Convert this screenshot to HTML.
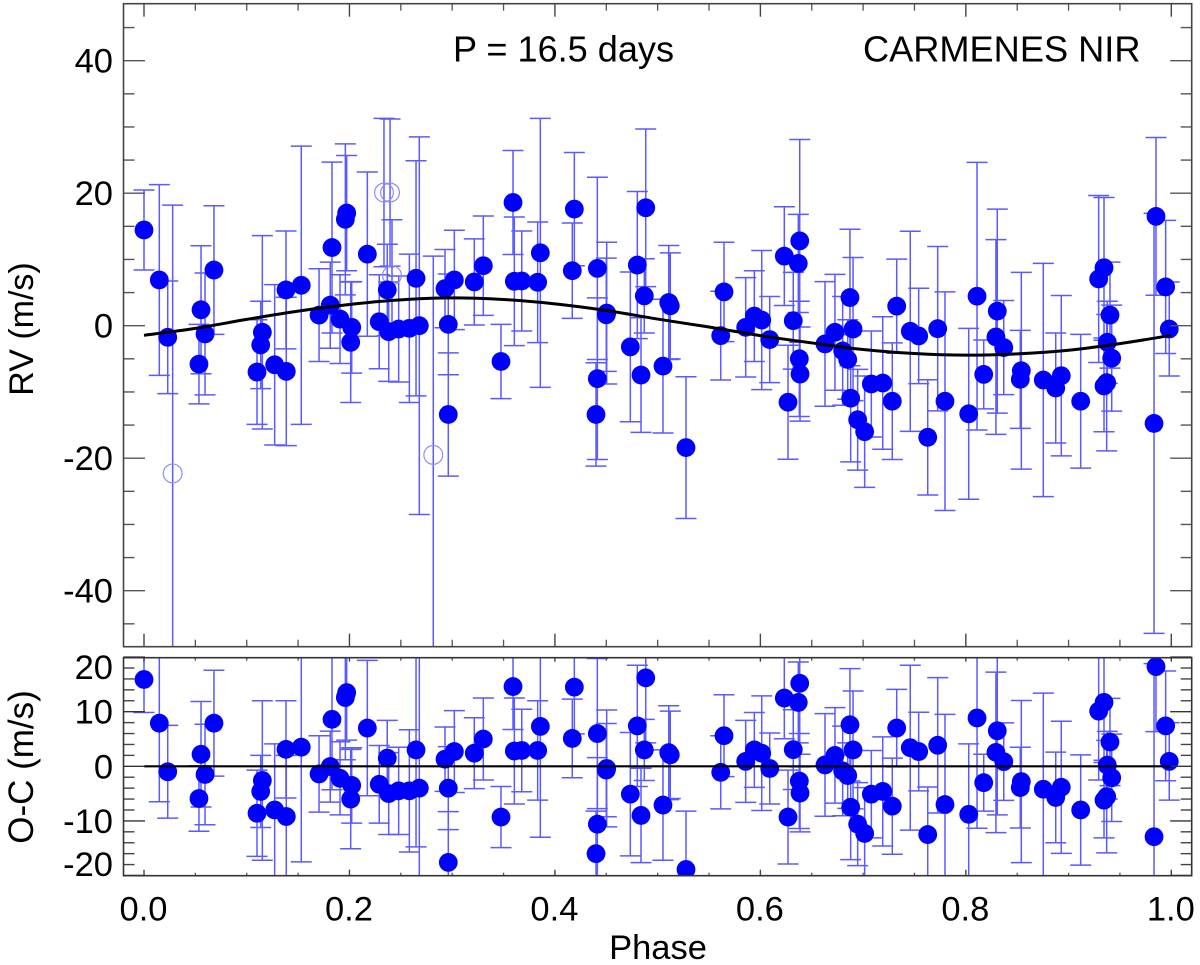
<!DOCTYPE html>
<html lang="en">
<head>
<meta charset="utf-8">
<title>RV phase curve, CARMENES NIR</title>
<style>
  html, body { margin: 0; padding: 0; background: #fff; }
  body { width: 1200px; height: 965px; overflow: hidden; }
  svg { display: block; }
  text { font-family: "Liberation Sans", Arial, sans-serif; fill: #000; }
</style>
</head>
<body>
<svg id="chart" xmlns="http://www.w3.org/2000/svg" width="1200" height="965" viewBox="0 0 1200 965">
  <defs>
    <clipPath id="clip-top"><rect x="123.5" y="3.7" width="1068.2" height="643"/></clipPath>
    <clipPath id="clip-bottom"><rect x="123.5" y="657.7" width="1068.2" height="218"/></clipPath>
  </defs>
  <g id="top-marks" clip-path="url(#clip-top)"></g>
  <g id="bottom-marks" clip-path="url(#clip-bottom)"></g>
  <g id="axes"></g>
  <rect x="123.5" y="3.7" width="1068.2" height="643" fill="none" stroke="#444" stroke-width="1.6"/>
  <rect x="123.5" y="657.7" width="1068.2" height="218" fill="none" stroke="#333" stroke-width="1.6"/>
  <text x="453" y="61.5" font-size="36.1">P = 16.5 days</text>
  <text x="863" y="61.5" font-size="36.2">CARMENES NIR</text>
  <text transform="translate(33 329) rotate(-90)" text-anchor="middle" font-size="34">RV (m/s)</text>
  <text transform="translate(33 767) rotate(-90)" text-anchor="middle" font-size="35">O-C (m/s)</text>
  <text x="658" y="959" text-anchor="middle" font-size="34.5">Phase</text>
</svg>
<script>
const phase = [
  0.0000, 0.0149, 0.0231, 0.0555, 0.0535, 0.0594, 0.0681, 0.1100, 0.1152, 0.1136,
  0.1272, 0.1385, 0.1382, 0.1531, 0.1704, 0.1813, 0.1830, 0.1908, 0.1973, 0.1960,
  0.2022, 0.2012, 0.2174, 0.2290, 0.2368, 0.2382, 0.2479, 0.2583, 0.2680, 0.2648,
  0.2930, 0.3021, 0.2962, 0.2962, 0.3215, 0.3303, 0.3475, 0.3592, 0.3605, 0.3677,
  0.3832, 0.3858, 0.4169, 0.4189, 0.4413, 0.4413, 0.4400, 0.4504, 0.4500, 0.4734,
  0.4802, 0.4838, 0.4884, 0.4870, 0.5052, 0.5108, 0.5123, 0.5276, 0.5614, 0.5646,
  0.5857, 0.5941, 0.6013, 0.6091, 0.6233, 0.6369, 0.6383, 0.6320, 0.6269, 0.6379,
  0.6386, 0.6629, 0.6726, 0.6801, 0.6850, 0.6872, 0.6902, 0.6879, 0.6947, 0.7015,
  0.7080, 0.7191, 0.7284, 0.7327, 0.7459, 0.7541, 0.7726, 0.7629, 0.7797, 0.8028,
  0.8109, 0.8174, 0.8306, 0.8293, 0.8369, 0.8540, 0.8530, 0.8754, 0.8875, 0.8929,
  0.9118, 0.9293, 0.9345, 0.9403, 0.9377, 0.9420, 0.9345, 0.9371, 0.9832, 0.9851,
  0.9945, 0.9980
];
const rv = [
  14.45, 6.9, -1.75, 2.4, -5.8, -1.25, 8.4, -7.0, -1.0, -2.9,
  -5.9, -6.9, 5.4, 6.1, 1.6, 3.1, 11.8, 1.0, 17.0, 16.05,
  -0.25, -2.5, 10.8, 0.6, 5.4, -0.9, -0.5, -0.4, 0.0, 7.15,
  5.6, 6.9, 0.2, -13.4, 6.6, 9.05, -5.4, 18.6, 6.7, 6.75,
  6.55, 11.0, 8.3, 17.6, 8.65, -8.0, -13.4, 1.9, 1.65, -3.2,
  9.15, -7.45, 17.8, 4.5, -6.1, 3.5, 3.0, -18.4, -1.5, 5.1,
  -0.25, 1.45, 0.85, -2.1, 10.5, 9.4, 12.8, 0.75, -11.55, -5.0,
  -7.3, -2.75, -1.0, -3.8, -5.1, 4.25, -0.5, -10.95, -14.2, -16.0,
  -8.8, -8.65, -11.4, 2.95, -0.85, -1.55, -0.45, -16.85, -11.4, -13.3,
  4.45, -7.35, 2.2, -1.7, -3.3, -6.8, -8.1, -8.2, -9.4, -7.55,
  -11.4, 7.05, 8.75, 1.6, -2.5, -4.9, -9.1, -8.6, -14.75, 16.5,
  5.85, -0.5
];
const rvError = [
  6.04, 14.4, 8.5, 9.66, 6.0, 9.2, 9.7, 7.9, 14.6, 6.6,
  12.1, 11.2, 8.9, 21.0, 7.0, 6.5, 12.9, 6.7, 8.7, 11.4,
  6.9, 9.1, 12.4, 7.1, 6.9, 7.5, 8.0, 11.2, 28.5, 17.75,
  5.9, 7.5, 7.6, 9.3, 6.5, 7.5, 5.6, 7.85, 9.7, 7.55,
  9.1, 20.3, 7.2, 8.55, 13.75, 12.2, 7.8, 10.7, 8.55, 11.3,
  11.1, 8.65, 11.9, 5.6, 10.1, 8.6, 8.0, 10.7, 6.7, 7.5,
  7.5, 6.85, 10.5, 6.5, 7.45, 7.4, 15.3, 7.3, 8.6, 8.7,
  7.1, 9.4, 8.75, 8.2, 6.0, 10.3, 10.8, 9.6, 7.6, 8.4,
  8.0, 10.0, 8.8, 7.1, 15.1, 7.2, 12.4, 8.7, 16.5, 12.9,
  20.2, 5.2, 15.4, 14.7, 7.1, 14.85, 7.4, 17.6, 8.3, 12.1,
  10.1, 12.6, 10.6, 8.0, 6.2, 8.0, 6.9, 10.3, 31.7, 11.9,
  10.05, 7.1
];
const residual = [
  15.9, 7.9, -1.0, 2.2, -5.9, -1.5, 7.9, -8.6, -2.6, -4.6,
  -8.0, -9.2, 3.1, 3.5, -1.4, -0.05, 8.6, -2.2, 13.5, 12.6,
  -3.5, -6.0, 7.0, -3.3, 1.5, -5.0, -4.5, -4.5, -4.0, 3.0,
  1.3, 2.7, -4.0, -17.6, 2.4, 5.0, -9.3, 14.6, 2.8, 2.9,
  2.9, 7.3, 5.1, 14.5, 6.0, -10.6, -16.0, -0.4, -0.7, -5.1,
  7.4, -9.0, 16.2, 3.0, -7.1, 2.5, 2.1, -18.9, -1.1, 5.6,
  0.9, 3.0, 2.4, -0.4, 12.5, 11.7, 15.2, 3.05, -9.3, -2.7,
  -4.9, 0.25, 2.0, -0.85, -1.7, 7.6, 3.0, -7.5, -10.6, -12.3,
  -5.1, -4.6, -7.3, 7.0, 3.4, 2.7, 3.85, -12.5, -7.0, -8.8,
  8.85, -3.0, 6.5, 2.55, 0.85, -2.8, -3.9, -4.2, -5.7, -3.85,
  -8.0, 10.1, 11.7, 4.45, 0.2, -2.1, -6.2, -5.55, -12.9, 18.25,
  7.4, 0.9
];
const excludedPhase = [0.0279, 0.2336, 0.2395, 0.2414, 0.2816];
const excludedRv = [-22.3, 20.1, 20.1, 7.6, -19.5];
const excludedError = [40.5, 11.2, 11.1, 8.4, 30.0];
const modelPhase = [0, 0.05, 0.1, 0.15, 0.2, 0.25, 0.3, 0.35, 0.4, 0.45, 0.5, 0.55, 0.6, 0.65, 0.7, 0.75, 0.8, 0.85, 0.9, 0.95, 1];
const modelRv = [-1.45, -0.4, 0.95, 2.2, 3.2, 3.9, 4.2, 3.95, 3.3, 2.3, 1.0, -0.2, -1.5, -2.6, -3.6, -4.2, -4.45, -4.25, -3.7, -2.7, -1.45];
const zeroPhase = [0, 1];
const zeroResidual = [0, 0];
const xMajorTicks = [0, 0.2, 0.4, 0.6, 0.8, 1];
const xMinorTicks = [0.05, 0.1, 0.15, 0.25, 0.3, 0.35, 0.45, 0.5, 0.55, 0.65, 0.7, 0.75, 0.85, 0.9, 0.95];
const xTickLabels = ["0.0", "0.2", "0.4", "0.6", "0.8", "1.0"];
const rvMajorTicks = [-40, -20, 0, 20, 40];
const rvMinorTicks = [-45, -35, -30, -25, -15, -10, -5, 5, 10, 15, 25, 30, 35, 45];
const rvTickLabels = ["-40", "-20", "0", "20", "40"];
const residualMajorTicks = [-20, -10, 0, 10, 20];
const residualMinorTicks = [-18, -16, -14, -12, -8, -6, -4, -2, 2, 4, 6, 8, 12, 14, 16, 18];
const residualTickLabels = ["-20", "-10", "0", "10", "20"];

const SVG_NS = "http://www.w3.org/2000/svg";
const xScale = function (p) { return 144 + 1027.3 * p; };
const rvScale = function (v) { return 325.7 - 6.625 * v; };
const residualScale = function (v) { return 766.3 - 5.46 * v; };
const topMarks = document.getElementById("top-marks");
const bottomMarks = document.getElementById("bottom-marks");
const axes = document.getElementById("axes");
const CAP = 10.5, RADIUS = 9.4, BAR_WIDTH = 1.5, BAR_COLOR = "#5a5aff", DOT_COLOR = "#0000ff", OPEN_COLOR = "#8c8cff";

function make(parent, tag, attrs) {
  const node = document.createElementNS(SVG_NS, tag);
  for (const key in attrs) node.setAttribute(key, attrs[key]);
  parent.appendChild(node);
  return node;
}
function barPath(x, y, half, yScalePerUnit) {
  const y1 = yScalePerUnit(y - half), y2 = yScalePerUnit(y + half), cx = xScale(x);
  return "M" + cx + " " + y1 + "V" + y2 +
         "M" + (cx - CAP) + " " + y1 + "H" + (cx + CAP) +
         "M" + (cx - CAP) + " " + y2 + "H" + (cx + CAP);
}
function smoothPath(xs, ys, fx, fy) {
  const px = xs.map(fx), py = ys.map(fy);
  let d = "M" + px[0] + " " + py[0];
  for (let i = 0; i < px.length - 1; i++) {
    const a = Math.max(i - 1, 0), b = Math.min(i + 2, px.length - 1);
    d += "C" + (px[i] + (px[i + 1] - px[a]) / 6) + " " + (py[i] + (py[i + 1] - py[a]) / 6) + " " +
         (px[i + 1] - (px[b] - px[i]) / 6) + " " + (py[i + 1] - (py[b] - py[i]) / 6) + " " +
         px[i + 1] + " " + py[i + 1];
  }
  return d;
}

/* Error bars, RV panel */
phase.forEach(function (p, i) {
  const bar = make(topMarks, "path", { d: barPath(p, rv[i], rvError[i], rvScale), fill: "none", stroke: BAR_COLOR, "stroke-width": BAR_WIDTH });
  
  
});
excludedPhase.forEach(function (p, i) {
  const bar = make(topMarks, "path", { d: barPath(p, excludedRv[i], excludedError[i], rvScale), fill: "none", stroke: BAR_COLOR, "stroke-width": BAR_WIDTH });
  
  
});
excludedPhase.forEach(function (p, i) {
  const ring = make(topMarks, "circle", { cx: xScale(p), cy: rvScale(excludedRv[i]), r: RADIUS, fill: "none", stroke: OPEN_COLOR, "stroke-width": 1.2 });
  
  
});
phase.forEach(function (p, i) {
  const dot = make(topMarks, "circle", { cx: xScale(p), cy: rvScale(rv[i]), r: RADIUS, fill: DOT_COLOR });
  
  
});
const modelCurve = make(topMarks, "path", { d: smoothPath(modelPhase, modelRv, xScale, rvScale), fill: "none", stroke: "#000", "stroke-width": 3 });



/* Residual panel */
phase.forEach(function (p, i) {
  const bar = make(bottomMarks, "path", { d: barPath(p, residual[i], rvError[i], residualScale), fill: "none", stroke: BAR_COLOR, "stroke-width": BAR_WIDTH });
  
  
});
phase.forEach(function (p, i) {
  const dot = make(bottomMarks, "circle", { cx: xScale(p), cy: residualScale(residual[i]), r: RADIUS, fill: DOT_COLOR });
  
  
});
const zeroLine = make(bottomMarks, "line", { x1: xScale(zeroPhase[0]), x2: xScale(zeroPhase[1]), y1: residualScale(zeroResidual[0]), y2: residualScale(zeroResidual[1]), stroke: "#000", "stroke-width": 2.2 });



/* X ticks on all four horizontal edges */
const xEdges = [
  { y: 3.7, dir: 1, major: 13, minor: 7 },
  { y: 646.7, dir: -1, major: 13, minor: 7 },
  { y: 657.7, dir: 1, major: 4, minor: 3 },
  { y: 875.7, dir: -1, major: 6, minor: 3 }
];
xEdges.forEach(function (edge) {
  xMajorTicks.forEach(function (t) {
    const tick = make(axes, "line", { x1: xScale(t), x2: xScale(t), y1: edge.y, y2: edge.y + edge.dir * edge.major, stroke: "#444", "stroke-width": 1.4 });
    
    
  });
  xMinorTicks.forEach(function (t) {
    const tick = make(axes, "line", { x1: xScale(t), x2: xScale(t), y1: edge.y, y2: edge.y + edge.dir * edge.minor, stroke: "#555", "stroke-width": 1.3 });
    
    
  });
});

/* Y ticks on both vertical edges, both panels */
const yEdges = [{ x: 123.5, dir: 1 }, { x: 1191.7, dir: -1 }];
yEdges.forEach(function (edge) {
  rvMajorTicks.forEach(function (t) {
    const tick = make(axes, "line", { x1: edge.x, x2: edge.x + edge.dir * 21.5, y1: rvScale(t), y2: rvScale(t), stroke: "#555", "stroke-width": 1.4 });
    
    
  });
  rvMinorTicks.forEach(function (t) {
    const tick = make(axes, "line", { x1: edge.x, x2: edge.x + edge.dir * 11, y1: rvScale(t), y2: rvScale(t), stroke: "#555", "stroke-width": 1.4 });
    
    
  });
  residualMajorTicks.forEach(function (t) {
    const tick = make(axes, "line", { x1: edge.x, x2: edge.x + edge.dir * 21.5, y1: residualScale(t), y2: residualScale(t), stroke: "#333", "stroke-width": 1.4 });
    
    
  });
  residualMinorTicks.forEach(function (t) {
    const tick = make(axes, "line", { x1: edge.x, x2: edge.x + edge.dir * 11, y1: residualScale(t), y2: residualScale(t), stroke: "#444", "stroke-width": 1.4 });
    
    
  });
});

/* Tick labels */
xMajorTicks.forEach(function (t, i) {
  const label = make(axes, "text", { x: xScale(t) - 0.5, y: 920.5, "text-anchor": "middle", "font-size": 34.5 });
  label.textContent = xTickLabels[i];
  
  
});
rvMajorTicks.forEach(function (t, i) {
  const label = make(axes, "text", { x: 113, y: rvScale(t) + 12, "text-anchor": "end", "font-size": 34.5 });
  label.textContent = rvTickLabels[i];
  
  
});
residualMajorTicks.forEach(function (t, i) {
  const centre = Math.min(864, Math.max(667, residualScale(t)));
  const label = make(axes, "text", { x: 113, y: centre + 12, "text-anchor": "end", "font-size": 34.5 });
  label.textContent = residualTickLabels[i];
  
  
});
</script>
</body>
</html>
